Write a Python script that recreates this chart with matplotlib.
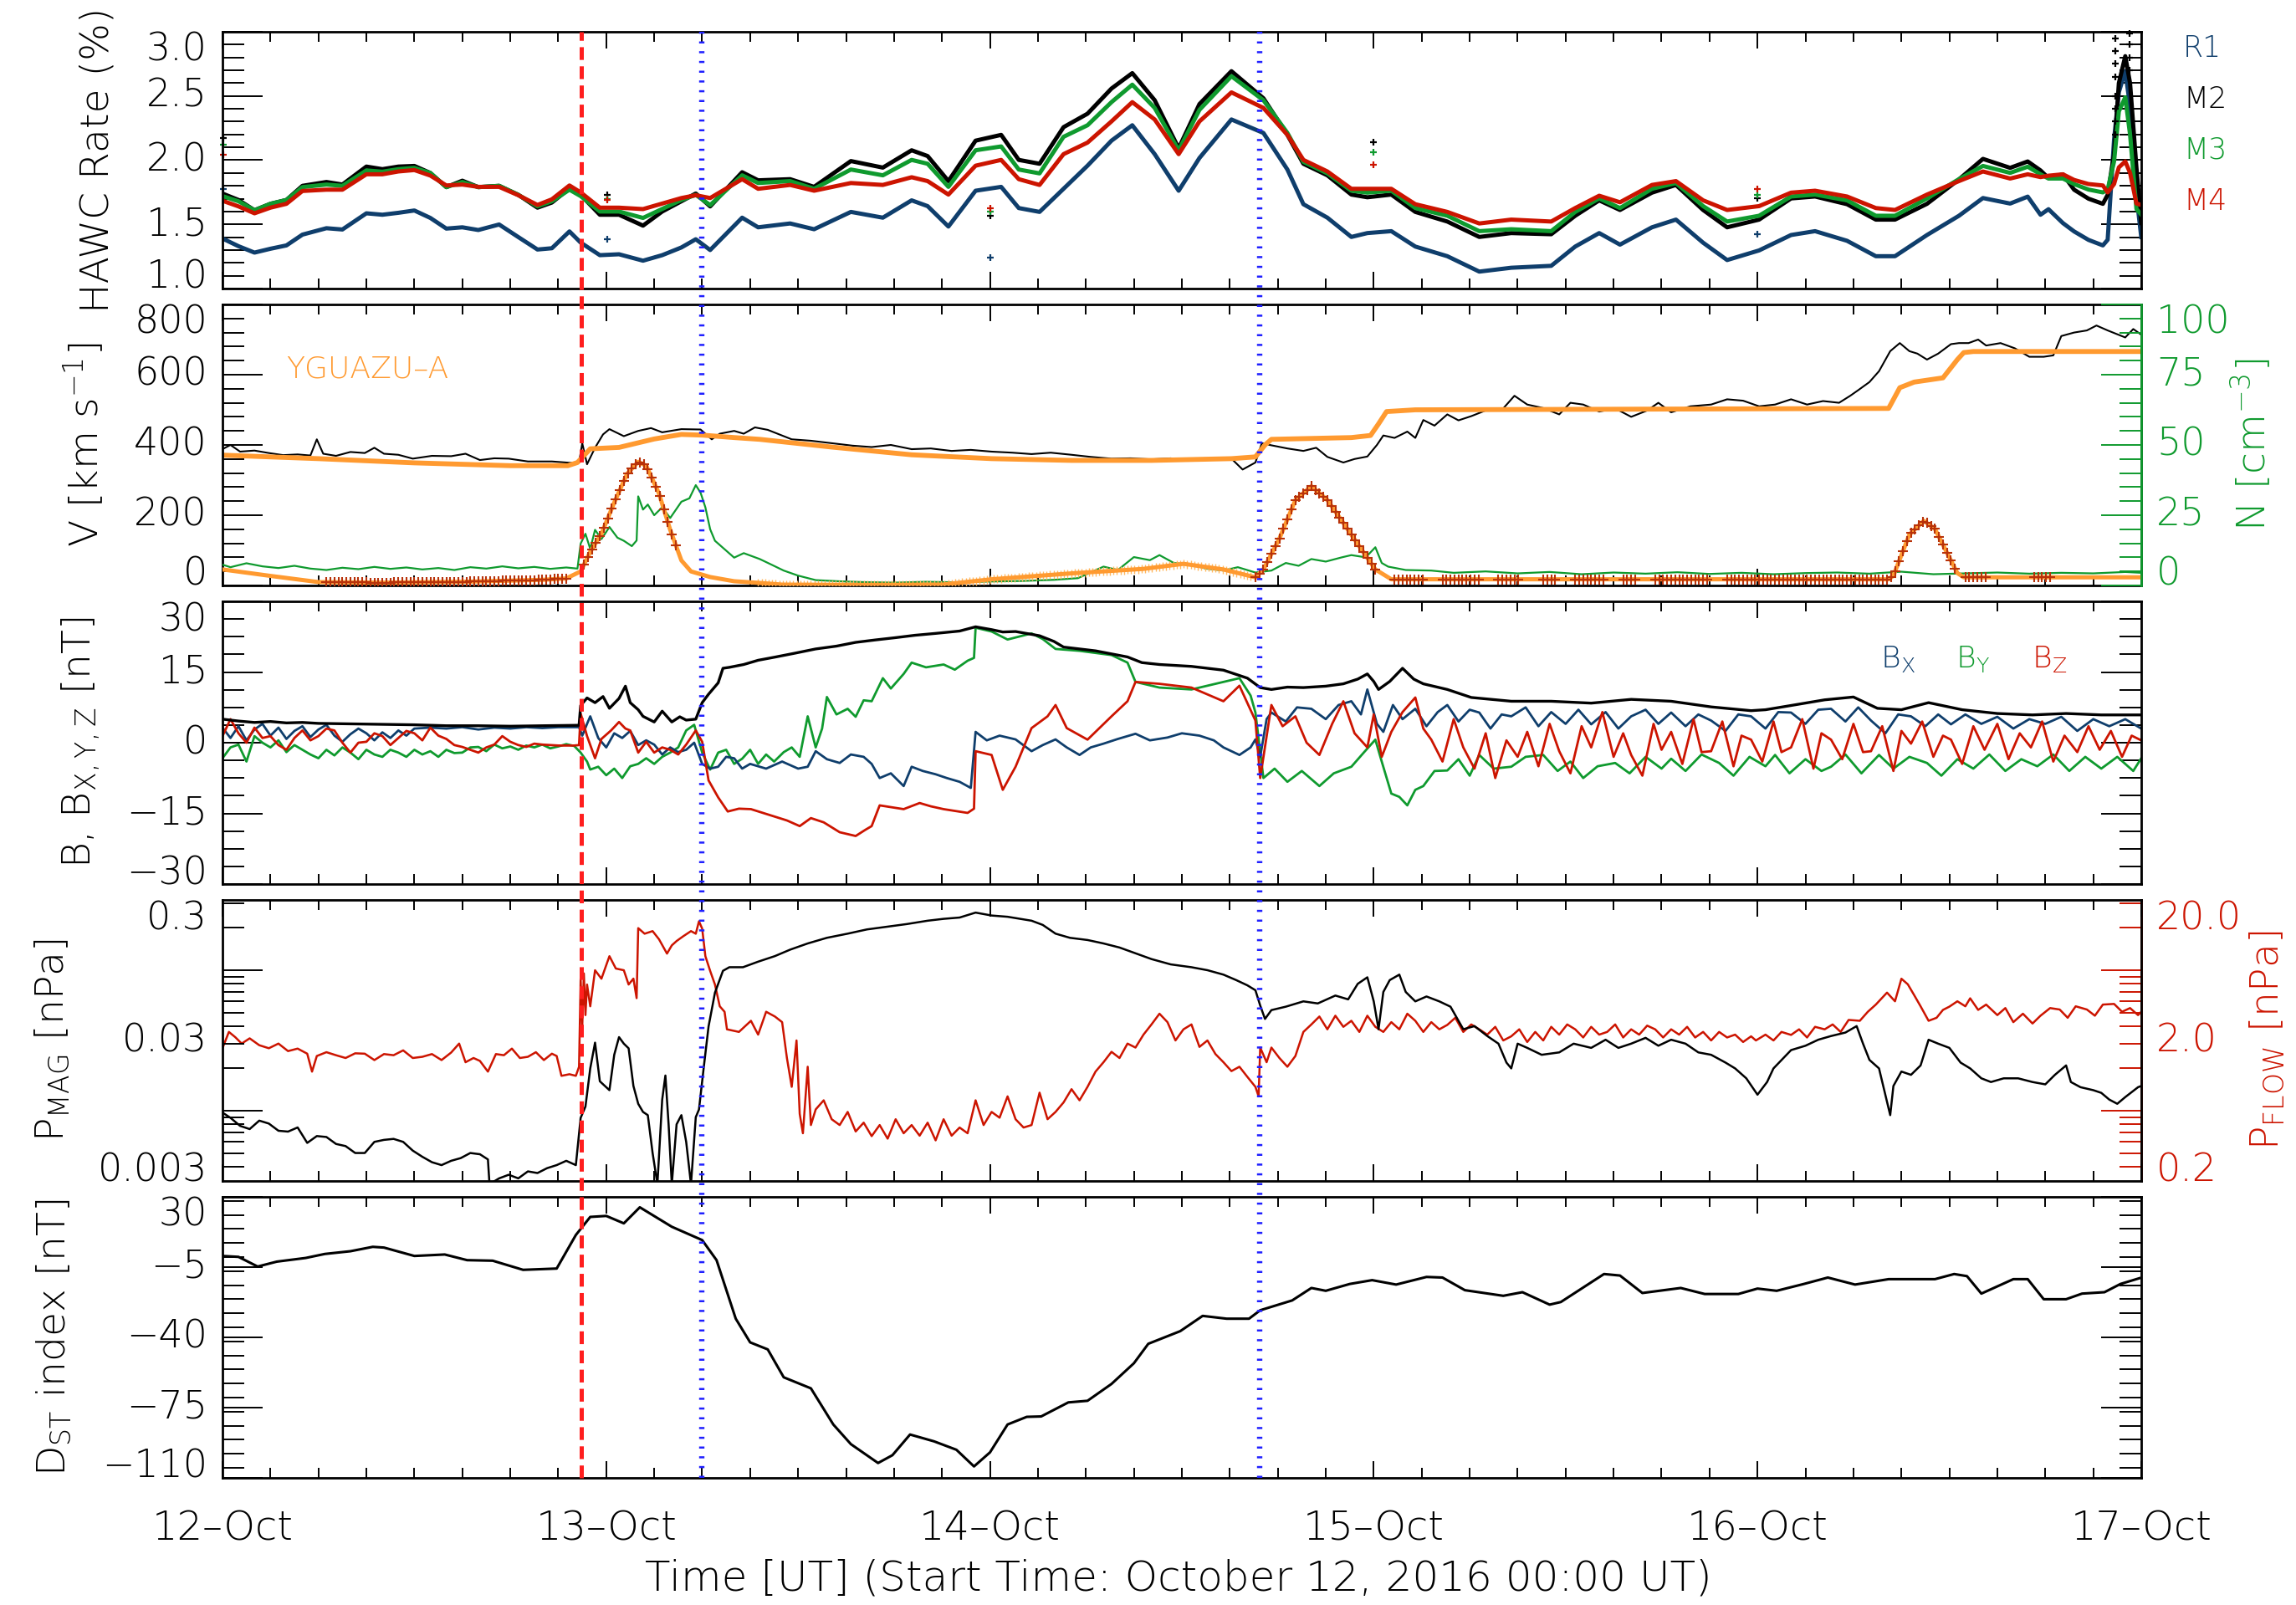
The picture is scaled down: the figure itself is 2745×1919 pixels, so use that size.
import numpy as np
import matplotlib
matplotlib.use("Agg")
import matplotlib.pyplot as plt
from matplotlib import font_manager
from matplotlib.ticker import FixedLocator, MultipleLocator, NullFormatter, LogLocator
from matplotlib.transforms import blended_transform_factory, offset_copy
from matplotlib.lines import Line2D

# pick a thin sans font if one is installed (the original uses a thin stroke font)
FONT_FAMILY, FONT_WEIGHT = 'DejaVu Sans', 'normal'
for fam, key in (('DejaVu Sans', 'extralight'), ('Roboto', 'light'), ('Lato', 'light'), ('Open Sans', 'light'),
                 ('Noto Sans', 'light'), ('Inter', 'light')):
    try:
        p = font_manager.findfont(font_manager.FontProperties(family=fam, weight='light'), fallback_to_default=False)
    except Exception:
        continue
    if key in p.lower().replace('-', '').replace('_', ''):
        FONT_FAMILY, FONT_WEIGHT = fam, 'light'
        break
plt.rcParams['font.family'] = [FONT_FAMILY, 'DejaVu Sans']
plt.rcParams['font.weight'] = FONT_WEIGHT
plt.rcParams['mathtext.default'] = 'regular'
plt.rcParams['lines.scale_dashes'] = False
plt.rcParams['axes.unicode_minus'] = True

# ------------------------------------------------------------------ data
# time axis: hours since 2016-10-12 00:00 UT
DAY_HOURS = [0, 24, 48, 72, 96, 120]
DAY_LABELS = ["12–Oct", "13–Oct", "14–Oct", "15–Oct", "16–Oct", "17–Oct"]
SHOCK_TIME = 22.42
ICME_TIMES = [30.0, 64.85]

HAWC_R1 = [(0,1.39),(1,1.33),(2,1.28),(3,1.31),(4,1.336),(5,1.42),(6.5,1.47),(7.5,1.46),(9,1.586),(10,1.575),
           (11,1.59),(12,1.608),(13,1.55),(14,1.467),(15,1.477),(16,1.456),(17.3,1.499),(18.5,1.401),(19.7,1.304),
           (20.6,1.314),(21.7,1.445),(22.4,1.358),(23.6,1.26),(24.8,1.267),(26.3,1.217),(27.5,1.26),(28.7,1.32),
           (29.6,1.384),(30.5,1.30),(32.5,1.552),(33.5,1.477),(35.5,1.507),(37,1.462),(39.3,1.597),(41.3,1.552),
           (43.1,1.687),(44.1,1.642),(45.4,1.483),(47.1,1.762),(48.7,1.792),(49.8,1.627),(51.1,1.597),(52.6,1.777),
           (54.1,1.957),(55.6,2.152),(56.9,2.272),(58.3,2.047),(59.8,1.762),(61.1,2.017),(63.1,2.317),(65.1,2.212),
           (66.6,1.927),(67.6,1.657),(69.1,1.552),(70.6,1.402),(71.6,1.432),(73.1,1.447),(74.6,1.327),(76.6,1.252),
           (78.6,1.132),(80.6,1.162),(83.1,1.177),(84.6,1.327),(86.1,1.432),(87.4,1.342),(89.4,1.477),(90.9,1.537),
           (92.6,1.357),(94.1,1.222),(96.1,1.297),(98.1,1.417),(99.6,1.447),(101.6,1.372),(103.4,1.252),(104.6,1.252),
           (106.6,1.417),(108.6,1.567),(110.1,1.705),(111.8,1.662),(112.9,1.716),(113.7,1.575),(114.2,1.618),
           (115.1,1.51),(115.8,1.445),(116.7,1.379),(117.6,1.336),(117.9,1.38),(118.3,2.16),(118.6,2.53),(119.0,2.694),
           (119.3,2.422),(119.7,1.727),(120,1.401)]
HAWC_M2 = [(0,1.74),(1,1.69),(2,1.61),(3,1.66),(4,1.69),(5,1.80),(6.5,1.83),(7.5,1.81),(9,1.95),(10,1.93),(11,1.95),
           (12,1.955),(13,1.90),(14,1.79),(15,1.84),(16,1.79),(17.3,1.80),(18.5,1.73),(19.7,1.63),(20.6,1.67),(21.7,1.78),
           (22.4,1.73),(23.6,1.575),(24.8,1.575),(26.3,1.49),(27.5,1.60),(28.7,1.68),(29.6,1.74),(30.5,1.64),(32.5,1.906),
           (33.5,1.843),(35.5,1.852),(37,1.792),(39.3,1.993),(41.3,1.942),(43.1,2.077),(44.1,2.032),(45.4,1.837),
           (47.1,2.152),(48.7,2.197),(49.8,2.002),(51.1,1.972),(52.6,2.257),(54.1,2.362),(55.6,2.558),(56.9,2.678),
           (58.3,2.467),(59.8,2.092),(61.1,2.437),(63.1,2.693),(65.1,2.482),(66.6,2.197),(67.6,1.972),(69.1,1.882),
           (70.6,1.732),(71.6,1.711),(73.1,1.732),(74.6,1.597),(76.6,1.522),(78.6,1.402),(80.6,1.432),(83.1,1.423),
           (84.6,1.567),(86.1,1.687),(87.4,1.612),(89.4,1.747),(90.9,1.807),(92.6,1.612),(94.1,1.477),(96.1,1.537),
           (98.1,1.702),(99.6,1.717),(101.6,1.657),(103.4,1.537),(104.6,1.537),(106.6,1.66),(108.6,1.85),(110.1,2.01),
           (111.8,1.94),(112.9,1.99),(113.7,1.92),(114.2,1.86),(115.1,1.89),(115.8,1.77),(116.7,1.70),(117.6,1.66),
           (117.9,1.73),(118.3,2.05),(118.6,2.60),(119.0,2.81),(119.3,2.60),(119.7,1.94),(120,1.51)]
HAWC_M3 = [(0,1.72),(1,1.68),(2,1.61),(3,1.66),(4,1.69),(5,1.79),(6.5,1.81),(7.5,1.80),(9,1.92),(10,1.91),(11,1.93),
           (12,1.94),(13,1.90),(14,1.79),(15,1.83),(16,1.79),(17.3,1.80),(18.5,1.73),(19.7,1.64),(20.6,1.68),(21.7,1.77),
           (22.4,1.72),(23.6,1.60),(24.8,1.60),(26.3,1.55),(27.5,1.62),(28.7,1.69),(29.6,1.73),(30.5,1.65),(32.5,1.882),
           (33.5,1.822),(35.5,1.837),(37,1.777),(39.3,1.927),(41.3,1.882),(43.1,2.002),(44.1,1.972),(45.4,1.792),
           (47.1,2.077),(48.7,2.107),(49.8,1.927),(51.1,1.897),(52.6,2.182),(54.1,2.272),(55.6,2.452),(56.9,2.588),
           (58.3,2.407),(59.8,2.077),(61.1,2.392),(63.1,2.654),(65.1,2.467),(66.6,2.212),(67.6,1.987),(69.1,1.897),
           (70.6,1.762),(71.6,1.747),(73.1,1.762),(74.6,1.627),(76.6,1.567),(78.6,1.447),(80.6,1.462),(83.1,1.447),
           (84.6,1.597),(86.1,1.702),(87.4,1.627),(89.4,1.777),(90.9,1.822),(92.6,1.642),(94.1,1.522),(96.1,1.567),
           (98.1,1.717),(99.6,1.732),(101.6,1.687),(103.4,1.567),(104.6,1.567),(106.6,1.702),(108.6,1.852),(110.1,1.955),
           (111.8,1.901),(112.9,1.949),(113.7,1.890),(114.2,1.857),(115.1,1.857),(115.8,1.814),(116.7,1.771),(117.6,1.749),
           (117.9,1.771),(118.3,1.99),(118.6,2.38),(119.0,2.49),(119.3,2.20),(119.7,1.62),(120,1.575)]
HAWC_M4 = [(0,1.684),(1,1.64),(2,1.586),(3,1.63),(4,1.66),(5,1.76),(6.5,1.77),(7.5,1.77),(9,1.89),(10,1.89),(11,1.912),
           (12,1.923),(13,1.88),(14,1.803),(15,1.81),(16,1.792),(17.3,1.792),(18.5,1.727),(19.7,1.651),(20.6,1.695),
           (21.7,1.803),(22.4,1.749),(23.6,1.63),(24.8,1.63),(26.3,1.619),(27.5,1.662),(28.7,1.705),(29.6,1.727),
           (30.5,1.705),(32.5,1.852),(33.5,1.777),(35.5,1.807),(37,1.762),(39.3,1.822),(41.3,1.807),(43.1,1.867),
           (44.1,1.837),(45.4,1.732),(47.1,1.957),(48.7,2.002),(49.8,1.852),(51.1,1.807),(52.6,2.047),(54.1,2.137),
           (55.6,2.302),(56.9,2.452),(58.3,2.317),(59.8,2.047),(61.1,2.302),(63.1,2.528),(65.1,2.407),(66.6,2.197),
           (67.6,2.002),(69.1,1.912),(70.6,1.777),(71.6,1.777),(73.1,1.777),(74.6,1.657),(76.6,1.597),(78.6,1.507),
           (80.6,1.537),(83.1,1.522),(84.6,1.627),(86.1,1.723),(87.4,1.672),(89.4,1.807),(90.9,1.837),(92.6,1.687),
           (94.1,1.612),(96.1,1.642),(98.1,1.747),(99.6,1.762),(101.6,1.717),(103.4,1.627),(104.6,1.612),(106.6,1.732),
           (108.6,1.837),(110.1,1.912),(111.8,1.857),(112.9,1.890),(113.7,1.868),(114.2,1.879),(115.1,1.890),
           (115.8,1.846),(116.7,1.814),(117.6,1.803),(117.9,1.749),(118.3,1.814),(118.6,1.944),(119.0,1.99),
           (119.3,1.901),(119.7,1.662),(120,1.651)]
# isolated HAWC samples drawn as single points
HAWC_DOTS_R1 = [(0.05,1.775),(24.07,1.384),(48.0,1.243),(96.0,1.426)]
HAWC_DOTS_M2 = [(0.05,2.17),(24.07,1.73),(48.0,1.567),(72.0,2.137),(96.0,1.702),(118.4,2.95),(118.4,2.85),
                (118.4,2.75),(118.4,2.65),(118.4,2.50),(118.4,2.40),(118.4,2.30),(118.4,2.20),(119.25,2.99),
                (119.25,2.90),(119.25,2.80),(119.25,2.70)]
HAWC_DOTS_M3 = [(0.05,2.12),(24.07,1.70),(48.0,1.597),(72.0,2.062),(96.0,1.732)]
HAWC_DOTS_M4 = [(0.05,2.04),(24.07,1.69),(48.0,1.627),(72.0,1.963),(96.0,1.777)]

# solar-wind speed [km/s]
V_WIND = [(0,388),(0.5,400),(1.1,381),(2,384),(2.9,377),(3.8,371),(4.7,373),(5.5,370),(5.9,416),(6.3,375),(7.1,369),
          (8,380),(8.9,377),(9.5,392),(10.1,375),(11,372),(11.9,361),(13.1,369),(14.3,368),(15.2,375),(16.1,357),
          (17,362),(17.9,361),(19.1,353),(20.6,353),(21.8,349),(22.3,350),(22.5,405),(22.8,345),(23.3,392),(23.8,430),
          (24.2,445),(25.1,425),(26,440),(26.8,448),(27.5,436),(28.7,445),(29.9,444),(30.6,416),(31.1,432),(32,440),
          (32.6,432),(33.3,450),(34.1,443),(35.6,416),(36.8,412),(38.1,405),(39.4,398),(40.6,394),(41.8,400),(43.1,388),
          (44.3,390),(45.6,383),(46.8,386),(48.1,381),(49.4,378),(50.6,374),(51.8,378),(53.1,372),(54.3,366),(55.6,361),
          (56.8,362),(58.1,359),(59.3,362),(60.6,356),(61.8,358),(63.1,361),(63.8,330),(64.6,350),(65.0,405),(65.6,399),
          (66.6,390),(67.6,383),(68.4,392),(69.1,366),(70.1,350),(70.8,360),(71.6,367),(72.2,400),(72.6,427),(73.3,420),
          (74.1,438),(74.6,420),(75.1,471),(75.8,455),(76.6,487),(77.3,470),(78.1,482),(79.1,500),(80.1,504),(80.8,540),
          (81.6,515),(82.6,505),(83.6,487),(84.3,520),(85.1,515),(86.1,495),(87.1,504),(88.1,480),(89.1,498),(89.8,520),
          (90.6,493),(91.8,510),(93.1,515),(94.1,530),(95.1,526),(96.1,510),(97.1,515),(98.1,530),(99.1,515),(100.1,525),
          (101.1,520),(101.8,540),(102.3,556),(103.0,579),(103.6,610),(104.3,667),(104.9,690),(105.5,667),(106.0,660),
          (106.6,643),(107.3,660),(108.1,687),(108.6,690),(109.2,690),(109.8,700),(110.3,683),(111.2,690),(112.1,675),
          (113.0,651),(113.9,651),(114.5,655),(115.0,710),(115.8,720),(116.6,726),(117.2,740),(117.9,726),(118.5,715),
          (119.0,706),(119.5,730),(120,714)]
# YGUAZU-A model speed [km/s]
YG_V = [(0,371),(6,361),(12,349),(18,341),(21.6,341),(22.2,350),(23,389),(24.8,393),(27,417),(28.7,430),(30,428),
        (32,421),(33.6,416),(38.1,394),(43.1,372),(48.1,361),(53.1,356),(58.1,356),(63.1,361),(64.6,366),(65.2,400),
        (65.6,416),(70.6,421),(71.8,427),(72.3,460),(72.8,495),(74.6,500),(104.2,504),(104.9,563),(105.8,579),
        (107.6,591),(108.5,643),(108.9,663),(109.5,666),(120,666)]
# proton density [cm^-3]
N_WIND = [(0,7.4),(0.5,6.5),(1.5,7.9),(2.5,6.8),(3.5,6.2),(4.5,7.0),(5.5,6.0),(6.5,5.5),(7.5,6.3),(8.5,5.8),(9.5,6.6),
          (10.5,5.9),(11.5,6.4),(12.5,5.7),(13.5,6.2),(14.5,5.5),(15.5,6.5),(16.5,6.0),(17.5,6.8),(18.5,6.1),(19.5,6.6),
          (20.5,5.9),(21.5,6.4),(22.2,6.0),(22.4,14.9),(22.7,18.4),(23.0,13),(23.3,19.8),(23.7,16.5),(24.2,20.8),
          (24.7,17),(25.1,15.9),(25.6,14.0),(25.9,16),(26.0,31.7),(26.3,27),(26.6,28.8),(27.0,25),(27.5,27.8),(28.0,24),
          (28.7,29.8),(29.2,31),(29.6,35.7),(29.9,33),(30.2,27.8),(30.5,20),(30.8,15.9),(31.4,12.9),(32.0,9.9),
          (32.6,11.5),(33.6,9.4),(34.3,7.5),(35.1,5.3),(36,3.5),(37.1,1.9),(38.5,1.5),(40,1.2),(42,1.0),(44,1.3),
          (46,1.1),(48,1.4),(50,1.6),(52,2.0),(53.5,2.6),(55.1,6.7),(56,5.5),(57,10.1),(58,9),(58.6,10.8),(59.5,8),
          (60.6,7.4),(61.5,6),(62.6,5.3),(63.5,6.5),(64.6,4.6),(65.6,5.3),(66.5,8),(67.3,7),(68.1,9.4),(69,8.5),(70,10),
          (70.6,10.8),(71.5,10),(72.1,13.6),(72.5,8),(72.9,6.7),(74,5.5),(75.6,5.3),(77,4.5),(79,5),(81,4.3),(83,4.8),
          (85,4.0),(87,4.6),(89,4.2),(91,4.7),(93,4.1),(95,4.5),(97,4.0),(99,4.4),(101,4.6),(103,4.2),(105,4.9),
          (107,4.0),(109,4.3),(111,4.6),(113,4.2),(115,4.5),(117,4.3),(119,4.8),(120,4.5)]
YG_N = [(0,5.7),(3,3.4),(6,1.2),(10,1.0),(15,1.3),(20,2.0),(21.5,2.5),(22.4,5.0),(23,12.0),(23.7,18.4),(24.5,29.5),
        (25.3,39.7),(26.0,44.0),(26.5,42.6),(27.3,32.7),(28.0,19.8),(28.7,8.9),(29.3,5.0),(30.5,3.0),(32,1.5),
        (33.6,0.9),(35,0.3),(40,0.2),(45,0.3),(48.1,2.2),(53.1,4.3),(57.6,5.9),(60.1,7.7),(62.6,5.7),(64.6,2.9),
        (65.1,5.7),(66.1,16.7),(67.1,30.4),(68.1,35.3),(69.1,30.4),(70.1,22.2),(71.1,13.9),(72.1,5.7),(73.1,2.2),
        (104.2,2.2),(104.5,3.5),(105.5,18.1),(106.4,23.0),(107.1,20.1),(107.8,12.2),(108.5,4.4),(108.9,2.9),(120,2.9)]
YG_N_MARK_RANGES = [(6.5,21.6),(22.6,28.6),(64.6,72.3),(73.3,75.1),(76.3,78.6),(79.8,81.1),(82.6,83.6),(84.6,86.6),
                    (87.6,88.6),(89.6,93.1),(94.1,108.4),(109.0,110.4),(113.3,114.4)]
YG_N_LIGHT_RANGE = [(33.5,64.5)]

# magnetic field [nT]
B_TOT = [(0,5.0),(1,4.6),(2,4.3),(3,4.5),(4,4.2),(5,4.3),(6,4.1),(8,4.0),(10,3.9),(12,3.8),(14,3.6),(16,3.6),(18,3.5),
         (20,3.6),(22.3,3.7),(22.4,7.9),(22.8,9.5),(23.3,8.5),(23.8,9.8),(24.2,7.3),(24.8,9.4),(25.2,12.0),(25.5,8.5),
         (26.0,7.0),(26.3,5.6),(27.0,4.4),(27.5,6.7),(28.1,4.4),(28.6,5.5),(29.0,4.8),(29.6,5.0),(30.0,8.5),(30.4,10.3),
         (31.0,12.7),(31.3,15.8),(31.7,16.0),(32.6,16.6),(33.5,17.5),(34.6,18.2),(35.8,19.0),(37.1,19.9),(38.4,20.5),
         (39.6,21.3),(40.8,21.8),(42.1,22.3),(43.3,22.8),(44.6,23.2),(46.1,23.7),(47.1,24.6),(48.1,24.0),(48.8,23.5),
         (49.6,23.6),(51.1,22.7),(52.0,21.5),(52.6,20.3),(54.6,19.5),(56.6,18.2),(57.5,17.0),(58.6,16.6),(60.6,16.2),
         (62.6,15.4),(64.1,13.7),(64.9,11.7),(65.6,11.3),(66.6,11.8),(67.6,11.7),(69.0,12.0),(70.1,12.5),(71.0,13.5),
         (71.6,14.6),(72.0,13.0),(72.3,11.3),(73.0,13.0),(73.8,15.8),(74.5,13.5),(75.1,12.5),(76.6,11.3),(78.1,9.6),
         (80.6,8.8),(83.1,8.8),(85.6,8.4),(88.1,9.2),(90.6,8.8),(93.1,7.6),(95.6,6.8),(96.5,7.0),(98.1,7.9),(100.2,9.1),
         (102.0,9.7),(103.5,7.3),(105.0,7.0),(106.7,8.5),(108.8,7.0),(111.0,6.2),(113.2,5.9),(115.3,6.2),(117.5,5.9),
         (120,5.9)]
B_X = [(0,3.2),(0.5,1.0),(1,3.5),(1.5,0.5),(2,2.8),(2.5,4.0),(3,1.5),(3.5,3.2),(4,0.8),(4.5,2.5),(5,3.5),(5.5,1.2),
       (6,2.8),(6.5,3.8),(7,1.5),(7.5,0.2),(8,1.8),(8.5,3.0),(9,2.0),(9.5,0.5),(10,2.2),(10.5,1.0),(11,2.6),(11.5,1.5),
       (12,3.0),(13,3.2),(14,3.0),(15,3.3),(16,2.8),(17,3.2),(18,3.0),(19,3.3),(20,3.1),(21,3.3),(22.3,3.3),(22.5,1.5),
       (22.8,4.0),(23,5.6),(23.5,1.0),(24,-1.0),(24.5,2.0),(25,1.0),(25.5,2.5),(26,-0.5),(26.5,0.5),(27,-0.4),
       (27.5,-2.5),(28,-1.0),(28.5,-2.0),(29,-1.5),(29.5,0.0),(30,-4.5),(30.5,-5.5),(31,-5.1),(31.5,-3.0),(32,-3.3),
       (32.5,-5.5),(33,-4.5),(34,-5.5),(35,-4.0),(36,-5.5),(36.6,-5.1),(37.1,-1.8),(37.8,-3.5),(38.6,-4.3),(39.3,-2.5),
       (40.1,-3.0),(40.6,-4.5),(41.1,-7.5),(41.8,-6.5),(42.6,-9.2),(43.1,-5.1),(43.8,-6.0),(44.6,-6.7),(45.3,-7.5),
       (46.1,-8.3),(46.8,-9.6),(47.1,2.3),(47.8,0.5),(48.6,1.5),(49.6,0.7),(50.6,-1.8),(51.3,-0.5),(52.1,0.7),
       (52.8,-1.0),(53.6,-2.6),(54.3,-1.0),(55.1,-0.2),(56.0,0.8),(57.1,1.9),(58.0,0.5),(59.1,1.1),(60.0,2.0),(61.1,1.5),
       (62.0,0.5),(62.6,-1.0),(63.6,-2.6),(64.3,-1.0),(64.6,0.7),(64.9,-3.0),(65.3,5.0),(65.6,6.4),(66.5,4.5),
       (67.2,7.5),(68.1,7.2),(69.0,5.0),(69.8,8.0),(70.6,8.8),(71.2,6.0),(71.6,11.3),(72.2,4.0),(72.6,2.3),(73.2,8.0),
       (73.8,5.0),(74.6,7.2),(75.3,3.5),(76.0,6.5),(76.6,8.0),(77.3,4.5),(78.0,7.0),(78.6,6.4),(79.3,3.0),(80.0,6.0),
       (80.6,5.6),(81.5,7.5),(82.3,3.5),(83.1,6.5),(84.0,4.0),(84.8,7.0),(85.6,3.9),(86.5,6.5),(87.3,3.0),(88.1,5.6),
       (89.0,7.0),(89.8,4.0),(90.6,6.4),(91.5,3.5),(92.3,6.0),(93.1,4.7),(94.0,2.5),(94.8,6.0),(95.6,5.6),(96.5,3.0),
       (97.3,6.5),(98.1,6.4),(99.0,4.0),(99.8,7.0),(100.6,7.2),(101.5,4.5),(102.3,7.5),(103.1,4.7),(104.0,2.0),
       (104.8,6.0),(105.6,5.6),(106.5,3.5),(107.3,6.0),(108.1,3.9),(109.0,6.0),(110,4.0),(111,5.5),(112,3.0),(113,5.0),
       (114,4.0),(115,5.5),(116,2.5),(117,5.0),(118,3.5),(119,5.0),(120,3.0)]
B_Y = [(0,-3.3),(0.5,-1.0),(1,-0.4),(1.5,-4.0),(2,1.4),(2.5,0.0),(3,-1.0),(3.5,0.5),(4,-2.0),(4.5,-0.5),(5,-1.5),
       (5.5,-2.5),(6,-3.3),(6.5,-1.5),(7,-2.7),(7.5,-1.0),(8,-2.1),(8.5,-3.5),(9,-1.5),(9.5,-2.5),(10,-3.0),(10.5,-1.5),
       (11,-2.1),(11.5,-3.0),(12,-1.5),(12.5,-2.5),(13,-1.8),(13.5,-3.0),(14,-1.5),(14.5,-2.2),(15,-2.1),(15.5,-1.0),
       (16,-0.9),(16.5,-1.8),(17,-0.4),(17.5,-1.2),(18,-0.8),(18.5,-1.5),(19,-0.6),(19.5,-1.0),(20,-0.4),(20.5,-1.2),
       (21,-0.8),(21.5,-0.3),(22,-0.7),(22.4,-2.1),(22.8,-4.0),(23,-5.7),(23.5,-5.1),(24,-6.9),(24.5,-5.5),(25,-7.5),
       (25.5,-5.0),(26,-4.5),(26.5,-3.3),(27,-4.5),(27.5,-3.0),(28,-2.1),(28.5,-1.0),(29,2.6),(29.5,3.8),(30,-2.1),
       (30.5,-5.7),(31,-2.1),(31.5,-1.5),(32,-4.5),(32.5,-3.4),(33,-1.5),(33.5,-4.5),(34,-2.5),(34.5,-4.0),(35.1,-2.0),
       (35.6,-1.0),(36.1,-3.0),(36.6,5.6),(37.1,-1.0),(37.5,3.0),(37.8,9.7),(38.4,6.0),(39.1,7.2),(39.6,5.5),(40.1,9.0),
       (40.6,8.8),(41.3,13.7),(41.8,11.5),(42.6,14.6),(43.1,17.0),(44,16.0),(45.1,16.6),(45.8,15.5),(46.6,17.4),
       (47.0,18.0),(47.1,24.4),(48.1,23.6),(49.1,21.9),(50.6,23.2),(51.3,22.0),(52.1,19.9),(53.6,19.5),(55.6,18.6),
       (56.6,17.0),(57.1,12.9),(58.6,11.7),(60.6,11.3),(62.6,12.9),(63.6,13.7),(64.3,10.0),(64.6,6.4),(65.1,-7.5),
       (65.8,-5.5),(66.6,-8.3),(67.5,-6.0),(68.6,-9.2),(69.5,-6.5),(70.6,-5.1),(71.4,-2.0),(72.1,0.65),(72.5,-4.0),
       (73.1,-10.8),(73.6,-11.5),(74.1,-13.3),(74.6,-10.0),(75.1,-9.2),(75.8,-6.0),(76.6,-5.9),(77.3,-3.5),(78.0,-7.0),
       (78.6,-2.6),(79.5,-5.5),(80.6,-5.1),(81.5,-3.0),(82.6,-2.6),(83.5,-6.0),(84.3,-4.0),(85.1,-7.5),(86.0,-5.0),
       (87.1,-4.3),(88.0,-6.5),(89.0,-3.0),(90.0,-5.5),(90.6,-3.4),(91.5,-6.0),(92.5,-2.5),(93.6,-4.3),(94.5,-7.0),
       (95.5,-3.0),(96.5,-5.0),(97.1,-2.6),(98.0,-6.5),(99.0,-3.5),(100.0,-6.0),(100.6,-5.1),(101.5,-2.5),(102.5,-6.5),
       (103.6,-2.6),(104.5,-5.5),(105.5,-3.0),(106.6,-4.3),(107.5,-7.0),(108.5,-3.5),(109.5,-5.5),(110.5,-2.5),
       (111.5,-6.0),(112.5,-3.5),(113.5,-5.0),(114.5,-2.5),(115.5,-6.0),(116.5,-3.0),(117.5,-5.5),(118.5,-3.0),
       (119.5,-6.0),(120,-3.3)]
B_Z = [(0,1.4),(0.5,5.0),(1,2.0),(1.5,0.0),(2,3.2),(2.5,1.0),(3,1.4),(3.5,-0.5),(4,-1.5),(4.5,1.0),(5,2.6),(5.5,0.5),
       (6,1.4),(6.5,3.0),(7,2.6),(7.5,0.0),(8,-2.1),(8.5,0.0),(9,0.2),(9.5,2.0),(10,1.4),(10.5,-0.5),(11,1.0),(11.5,2.5),
       (12,2.0),(12.5,0.5),(13,3.2),(13.5,1.5),(14,0.8),(14.5,-0.5),(15,-0.9),(15.5,-1.5),(16,-2.1),(16.5,-1.0),
       (17,-0.4),(17.5,1.4),(18,0.2),(18.5,-0.5),(19,-0.9),(19.5,-0.2),(20,-0.4),(21,-0.6),(22,-0.6),(22.3,-0.5),
       (22.4,6.2),(22.8,1.4),(23.3,-3.3),(23.7,0.8),(24.3,2.6),(24.8,4.4),(25.2,3.0),(25.5,2.6),(26,-2.1),(26.5,0.2),
       (27,-2.1),(27.5,-1.0),(28,-1.5),(28.5,-2.5),(29,-0.4),(29.6,2.6),(30,0.2),(30.4,-8.0),(31,-11.6),(31.6,-14.6),
       (32.3,-14.0),(33.05,-14.1),(34.55,-15.7),(35.3,-16.5),(36.1,-17.7),(36.8,-16.0),(37.6,-16.9),(38.6,-19.0),
       (39.6,-19.8),(40.2,-18.5),(40.6,-17.7),(41.1,-13.3),(42.6,-14.1),(43.6,-12.8),(44.3,-13.5),(45.1,-14.1),
       (46.6,-14.9),(47.0,-14.0),(47.1,-1.8),(48.1,-2.6),(48.8,-10.0),(49.6,-5.1),(50.6,3.1),(51.6,5.6),(52.1,8.0),
       (52.8,3.1),(54.1,0.65),(55.6,5.6),(56.6,8.8),(57.1,12.9),(58.6,12.5),(60.6,11.7),(62.6,8.8),(63.6,12.1),
       (64.6,4.7),(64.9,-7.5),(65.6,8.0),(66.3,3.5),(67.1,5.6),(67.8,0.0),(68.6,-2.6),(69.4,4.0),(70.1,8.8),(70.8,2.0),
       (71.6,-1.0),(72.0,6.0),(72.5,-3.0),(73.1,2.3),(73.8,6.5),(74.6,9.6),(75.1,3.0),(75.6,0.65),(76.3,-4.0),(77.0,5.0),
       (77.6,-1.0),(78.3,-5.5),(79.0,2.0),(79.6,-7.5),(80.3,0.5),(81.0,-3.0),(81.6,2.3),(82.3,-5.0),(83.0,4.0),
       (83.6,-1.8),(84.3,-6.5),(85.0,3.5),(85.6,-1.0),(86.3,6.5),(87.0,-3.0),(87.6,2.0),(88.1,-2.6),(88.8,-7.0),
       (89.5,4.0),(90.0,-1.5),(90.6,2.3),(91.3,-4.5),(92.0,5.0),(92.5,-2.0),(93.1,-1.8),(93.8,4.5),(94.5,-5.0),(95.0,1.5),
       (95.6,0.65),(96.3,-4.0),(97.0,4.5),(97.5,-2.0),(98.1,-1.0),(98.8,5.0),(99.5,-5.5),(100.0,2.0),(100.6,0.65),
       (101.3,-3.5),(102.0,4.0),(102.6,-2.0),(103.1,-1.8),(103.8,3.5),(104.5,-6.0),(105.0,2.5),(105.6,-0.2),(106.3,4.5),
       (107.0,-3.0),(107.6,1.5),(108.1,0.65),(108.8,-4.5),(109.5,3.5),(110.2,-1.5),(111.0,4.0),(111.7,-3.5),(112.4,2.0),
       (113.1,-1.0),(113.8,4.5),(114.5,-4.0),(115.2,1.5),(116.0,-2.0),(116.7,3.5),(117.4,-1.5),(118.1,2.5),(118.8,-3.0),
       (119.4,1.5),(120,0.5)]

# pressures [nPa]
P_MAG = [(0,0.0097),(0.5,0.0089),(1.1,0.0078),(1.7,0.0074),(2.3,0.0085),(2.9,0.0081),(3.5,0.0072),(4.1,0.0071),
         (4.7,0.0076),(5.3,0.0059),(5.9,0.0066),(6.5,0.0065),(7.1,0.0058),(7.7,0.0056),(8.3,0.0050),(8.9,0.0050),
         (9.5,0.0060),(10.1,0.0062),(10.7,0.0063),(11.3,0.0060),(11.9,0.0052),(12.5,0.0047),(13.1,0.0043),(13.7,0.0041),
         (14.3,0.0044),(14.9,0.0046),(15.5,0.0050),(16.1,0.0049),(16.6,0.0045),(16.7,0.0030),(17.3,0.0033),(17.9,0.0035),
         (18.5,0.0033),(19.1,0.0037),(19.7,0.0036),(20.3,0.0039),(20.9,0.0041),(21.5,0.0044),(22.1,0.0041),(22.4,0.0089),
         (22.7,0.0107),(23.0,0.020),(23.3,0.0305),(23.6,0.0162),(24.2,0.0140),(24.5,0.025),(24.8,0.0334),(25.1,0.030),
         (25.4,0.0278),(25.7,0.015),(26.0,0.0112),(26.3,0.0098),(26.6,0.0093),(26.9,0.005),(27.2,0.0030),(27.5,0.012),
         (27.7,0.0178),(27.9,0.008),(28.1,0.0030),(28.4,0.008),(28.7,0.0093),(29.0,0.006),(29.3,0.0030),(29.6,0.0090),
         (29.8,0.0102),(30.1,0.0204),(30.4,0.0398),(30.8,0.0692),(31.3,0.099),(31.7,0.105),(32.55,0.105),(33.5,0.115),
         (34.55,0.126),(35.5,0.140),(36.6,0.155),(37.8,0.170),(39.1,0.182),(40.3,0.195),(41.6,0.204),(42.8,0.213),
         (44.1,0.225),(45.1,0.232),(46.1,0.237),(47.1,0.257),(48.1,0.245),(49.1,0.240),(50.6,0.225),(51.3,0.210),
         (52.1,0.182),(53.0,0.170),(54.1,0.164),(55.1,0.155),(56.1,0.145),(57.1,0.132),(58.1,0.120),(59.3,0.110),
         (60.6,0.105),(61.6,0.100),(62.6,0.093),(63.4,0.085),(64.1,0.078),(64.6,0.072),(64.9,0.056),(65.2,0.045),
         (65.6,0.052),(66.5,0.055),(67.6,0.060),(68.5,0.058),(69.6,0.066),(70.4,0.062),(71.0,0.080),(71.6,0.089),
         (72.0,0.060),(72.3,0.038),(72.6,0.070),(73.0,0.085),(73.6,0.093),(74.0,0.070),(74.6,0.060),(75.3,0.065),
         (76.1,0.060),(76.8,0.055),(77.6,0.038),(78.3,0.040),(79.1,0.034),(79.8,0.030),(80.3,0.022),(80.6,0.020),
         (81.0,0.030),(81.6,0.028),(82.5,0.025),(83.6,0.026),(84.5,0.030),(85.6,0.028),(86.5,0.032),(87.3,0.028),
         (88.1,0.030),(89.0,0.033),(89.8,0.029),(90.6,0.032),(91.5,0.030),(92.3,0.026),(93.1,0.025),(94.0,0.022),
         (94.6,0.020),(95.3,0.017),(96.0,0.013),(96.6,0.016),(97.0,0.020),(98.1,0.027),(99.0,0.029),(99.8,0.032),
         (100.6,0.034),(101.5,0.036),(102.2,0.040),(102.6,0.030),(103.0,0.023),(103.6,0.020),(104.3,0.0093),(104.5,0.015),
         (105.0,0.019),(105.6,0.018),(106.2,0.021),(106.7,0.032),(107.3,0.030),(108.0,0.028),(108.7,0.022),(109.3,0.020),
         (110.0,0.017),(110.6,0.016),(111.4,0.017),(112.3,0.017),(113.2,0.016),(114.0,0.0154),(114.6,0.018),(115.3,0.021),
         (115.6,0.016),(116.2,0.0147),(117.0,0.014),(117.5,0.0134),(118.0,0.012),(118.5,0.0112),(119.0,0.0125),
         (119.8,0.0147),(120,0.015)]
P_FLOW = [(0,1.76),(0.4,2.3),(0.8,2.11),(1.2,1.9),(1.7,2.07),(2.3,1.85),(2.9,1.76),(3.5,1.9),(4.1,1.68),(4.7,1.75),
          (5.3,1.61),(5.6,1.2),(5.9,1.55),(6.5,1.65),(7.1,1.57),(7.7,1.5),(8.3,1.62),(8.9,1.61),(9.5,1.45),(10.1,1.6),
          (10.7,1.57),(11.3,1.7),(11.9,1.5),(12.5,1.53),(13.1,1.6),(13.7,1.45),(14.3,1.64),(14.8,1.9),(15.2,1.40),
          (15.7,1.5),(16.1,1.43),(16.6,1.2),(17.1,1.6),(17.6,1.57),(18.1,1.75),(18.6,1.5),(19.1,1.53),(19.6,1.65),
          (20.1,1.45),(20.6,1.61),(20.9,1.55),(21.2,1.12),(21.7,1.15),(22.1,1.12),(22.3,1.3),(22.4,5.51),(22.5,2.5),
          (22.6,6.0),(22.7,3.03),(22.8,5.0),(23.0,3.5),(23.3,6.32),(23.7,5.5),(24.2,7.96),(24.6,6.5),(25.1,6.32),
          (25.4,5.0),(25.7,5.51),(25.9,4.0),(26.0,12.6),(26.4,11.5),(26.9,12.0),(27.3,10.5),(27.8,8.3),(28.1,9.5),
          (28.4,10.2),(28.8,11.0),(29.3,12.0),(29.6,11.5),(29.8,14.1),(30.0,12.5),(30.2,7.96),(30.5,6.25),(30.8,5.0),
          (31.1,3.5),(31.4,3.2),(31.55,2.4),(32.3,2.3),(33.05,2.76),(33.5,2.2),(34.0,3.2),(34.55,2.96),(35.0,2.7),
          (35.3,1.5),(35.6,0.935),(35.9,2.0),(36.1,0.6),(36.3,0.437),(36.6,1.3),(36.8,0.5),(37.1,0.646),(37.6,0.75),
          (38.1,0.55),(38.6,0.50),(39.1,0.62),(39.6,0.45),(40.1,0.52),(40.6,0.417),(41.1,0.5),(41.6,0.40),(42.1,0.55),
          (42.6,0.437),(43.1,0.5),(43.6,0.42),(44.1,0.52),(44.6,0.389),(45.1,0.55),(45.6,0.42),(46.1,0.48),(46.6,0.437),
          (47.1,0.75),(47.6,0.50),(48.1,0.62),(48.6,0.564),(49.1,0.8),(49.6,0.55),(50.1,0.48),(50.6,0.50),(51.1,0.85),
          (51.6,0.55),(52.1,0.62),(52.6,0.724),(53.1,0.9),(53.6,0.75),(54.1,0.935),(54.6,1.2),(55.1,1.4),(55.6,1.66),
          (56.1,1.5),(56.6,1.9),(57.1,1.78),(57.6,2.2),(58.1,2.6),(58.6,3.10),(59.1,2.7),(59.6,2.0),(60.1,2.40),(60.6,2.6),
          (61.1,1.8),(61.6,2.0),(62.1,1.6),(62.6,1.4),(63.1,1.21),(63.6,1.3),(64.1,1.1),(64.6,0.935),(64.8,0.8),
          (64.9,1.78),(65.3,1.4),(65.6,1.78),(66.1,1.5),(66.6,1.3),(67.1,1.55),(67.6,2.3),(68.1,2.6),(68.6,2.96),
          (69.1,2.4),(69.6,3.0),(70.1,2.5),(70.6,2.76),(71.1,2.3),(71.6,3.0),(72.1,2.5),(72.6,2.3),(73.1,2.7),(73.6,2.4),
          (74.1,3.1),(74.6,2.76),(75.1,2.3),(75.6,2.7),(76.1,2.4),(76.6,2.58),(77.1,2.9),(77.6,2.3),(78.1,2.6),(78.6,2.40),
          (79.1,2.2),(79.6,2.5),(80.1,2.0),(80.6,2.14),(81.1,2.4),(81.6,1.95),(82.1,2.3),(82.6,2.0),(83.1,2.5),(83.6,2.2),
          (84.1,2.6),(84.6,2.40),(85.1,2.1),(85.6,2.5),(86.1,2.2),(86.6,2.30),(87.1,2.6),(87.6,2.1),(88.1,2.4),(88.6,2.2),
          (89.1,2.55),(89.6,2.40),(90.1,2.1),(90.6,2.4),(91.1,2.2),(91.6,2.5),(92.1,2.1),(92.6,2.30),(93.1,2.0),
          (93.6,2.3),(94.1,2.1),(94.6,2.2),(95.1,1.95),(95.6,2.14),(95.9,2.0),(96.5,2.2),(97.0,2.0),(97.5,2.3),
          (98.1,2.19),(98.6,2.4),(99.1,2.1),(99.6,2.5),(100.2,2.40),(100.7,2.6),(101.2,2.3),(101.7,2.8),(102.4,2.76),
          (102.9,3.2),(103.4,3.6),(104.1,4.38),(104.6,3.8),(105.0,5.5),(105.4,5.02),(105.8,4.2),(106.2,3.5),(106.7,2.76),
          (107.2,2.9),(107.6,3.3),(108.0,3.48),(108.5,3.8),(109.0,3.5),(109.3,3.99),(109.8,3.3),(110.3,3.6),(111.0,3.03),
          (111.5,3.4),(112.0,2.7),(112.6,3.1),(113.2,2.64),(113.7,3.0),(114.3,3.4),(114.9,3.32),(115.4,2.9),(115.9,3.5),
          (116.6,3.32),(117.1,3.0),(117.6,3.6),(118.3,3.64),(118.8,3.2),(119.3,3.4),(119.8,3.03),(120,3.2)]

# Dst index [nT]
DST = [(0,0.55),(1.0,0.10),(2.2,-4.72),(3.4,-2.27),(5.2,-0.45),(6.4,1.55),(8.0,2.91),(9.4,5.10),(10.1,4.73),(12.0,0.55),
       (13.9,1.28),(15.3,-1.54),(16.9,-1.81),(18.8,-6.36),(20.9,-5.72),(22.1,11.0),(23.0,20.0),(24.0,20.5),(25.1,16.8),
       (26.1,24.8),(28.1,15.1),(30.0,8.46),(30.9,-1.54),(32.1,-30.7),(33.0,-42.5),(34.1,-46.0),(35.1,-59.9),
       (36.8,-65.4),(38.2,-83.4),(39.3,-93.2),(41.0,-102.6),(41.9,-98.7),(43.0,-88.4),(44.5,-91.8),(45.9,-96.0),
       (47.0,-104.3),(48.0,-97.3),(49.1,-83.4),(50.3,-79.6),(51.2,-79.4),(52.9,-72.4),(54.1,-71.6),(55.6,-63.2),
       (57.0,-52.9),(57.9,-43.2),(59.9,-36.9),(61.3,-29.3),(62.8,-30.7),(64.2,-30.7),(64.9,-26.5),(66.9,-21.6),
       (68.1,-15.4),(69.0,-16.8),(70.5,-13.4),(71.9,-11.5),(73.4,-13.7),(75.3,-9.9),(76.3,-10.2),(77.7,-16.5),
       (80.1,-19.3),(81.3,-17.5),(83.0,-23.7),(83.7,-22.4),(86.4,-8.45),(87.4,-9.2),(88.8,-17.9),(91.2,-15.4),
       (92.7,-18.4),(94.8,-18.4),(96.0,-15.7),(97.2,-16.8),(98.9,-13.4),(100.4,-10.2),(102.1,-13.7),(104.2,-11.0),
       (107.1,-11.0),(108.3,-8.45),(109.1,-9.5),(110.0,-18.2),(112.0,-11.0),(112.9,-11.0),(113.9,-21.0),(115.3,-21.0),
       (116.3,-18.2),(117.7,-17.5),(118.7,-13.4),(119.9,-10.5)]

# axis ranges and tick labels
HAWC_RANGE = (1.0, 3.0)
HAWC_TICKS = [1.0, 1.5, 2.0, 2.5, 3.0]
HAWC_TICKLABELS = ["1.0", "1.5", "2.0", "2.5", "3.0"]
V_RANGE = (0, 800)
V_TICKS = [0, 200, 400, 600, 800]
N_RANGE = (0, 100)
N_TICKS = [0, 25, 50, 75, 100]
B_RANGE = (-30, 30)
B_TICKS = [-30, -15, 0, 15, 30]
PMAG_RANGE = (10 ** -2.5, 10 ** -0.5)
PMAG_LABEL_VALUES = [10 ** -2.5, 10 ** -1.5, 10 ** -0.5]
PMAG_LABELS = ["0.003", "0.03", "0.3"]
PFLOW_RANGE = (0.2, 20.0)
PFLOW_LABELS = ["0.2", "2.0", "20.0"]
DST_RANGE = (-110, 30)
DST_TICKS = [-110, -75, -40, -5, 30]


def xy(pairs):
    a = np.asarray(pairs, dtype=float)
    return a[:, 0], a[:, 1]


def fmt(v):
    return ("%g" % v).replace("-", "\u2212")

# ------------------------------------------------------------------ style
C_BLUE = "#0f3e6c"
C_GREEN = "#0f9a2e"
C_RED = "#cc1400"
C_ORANGE = "#ff9a30"
C_MARK = "#b8320a"
TICK_FS = 33
LBL_FS = 34
LW_FRAME = 2.0

fig = plt.figure(figsize=(27.45, 19.19), dpi=100)
LEFT, RIGHT = 0.0969, 0.9326
ROWS = [(0.82022, 0.15998), (0.63523, 0.17509), (0.44919, 0.17613), (0.26420, 0.17509), (0.07921, 0.17509)]
axes = [fig.add_axes([LEFT, b, RIGHT - LEFT, h]) for b, h in ROWS]


def frame(ax, right_ticks=True):
    for s in ax.spines.values():
        s.set_linewidth(LW_FRAME)
    ax.set_xlim(0, 120)
    ax.xaxis.set_major_locator(FixedLocator(DAY_HOURS))
    ax.xaxis.set_minor_locator(MultipleLocator(3))
    ax.tick_params(axis='x', which='major', direction='in', length=14.5, width=1.4, top=True, bottom=True,
                   labelbottom=False)
    ax.tick_params(axis='x', which='minor', direction='in', length=8.5, width=1.4, top=True, bottom=True)
    ax.tick_params(axis='y', which='major', direction='in', length=34.5, width=1.4, left=True, right=right_ticks,
                   labelleft=False, labelright=False)
    ax.tick_params(axis='y', which='minor', direction='in', length=18.5, width=1.4, left=True, right=right_ticks)
    ax.yaxis.set_major_formatter(NullFormatter())
    ax.yaxis.set_minor_formatter(NullFormatter())


def ytext(ax, values, labels, side='left', color='black'):
    tr = blended_transform_factory(ax.transAxes, ax.transData)
    x = 0.0 if side == 'left' else 1.0
    tr = offset_copy(tr, fig=fig, x=(-13 if side == 'left' else 13), y=0, units='points')
    n = len(values)
    for i, (v, s) in enumerate(zip(values, labels)):
        va = 'baseline' if i == 0 else ('top' if i == n - 1 else 'center')
        ax.text(x, v, s, transform=tr, ha=('right' if side == 'left' else 'left'), va=va,
                fontsize=TICK_FS, color=color, clip_on=False)


def twin_right(ax, color):
    tw = ax.twinx()
    for k in ('left', 'top', 'bottom'):
        tw.spines[k].set_visible(False)
    tw.spines['right'].set_color(color)
    tw.spines['right'].set_linewidth(LW_FRAME)
    tw.tick_params(axis='y', which='major', direction='in', length=34.5, width=1.4, left=False, right=True,
                   labelright=False, colors=color)
    tw.tick_params(axis='y', which='minor', direction='in', length=18.5, width=1.4, left=False, right=True,
                   colors=color)
    tw.yaxis.set_major_formatter(NullFormatter())
    tw.yaxis.set_minor_formatter(NullFormatter())
    return tw

# ------------------------------------------------------------------ panel 1: HAWC
ax = axes[0]
frame(ax)
for pairs, c in ((HAWC_R1, C_BLUE), (HAWC_M2, 'black'), (HAWC_M3, C_GREEN), (HAWC_M4, C_RED)):
    ax.plot(*xy(pairs), color=c, lw=3.6, solid_joinstyle='round')
for pairs, c in ((HAWC_DOTS_R1, C_BLUE), (HAWC_DOTS_M2, 'black'), (HAWC_DOTS_M3, C_GREEN), (HAWC_DOTS_M4, C_RED)):
    ax.plot(*xy(pairs), ls='none', marker='+', ms=6, mew=1.6, color=c, clip_on=False)
ax.set_ylim(*HAWC_RANGE)
ax.yaxis.set_major_locator(FixedLocator(HAWC_TICKS))
ax.yaxis.set_minor_locator(MultipleLocator(0.1))
ytext(ax, HAWC_TICKS, HAWC_TICKLABELS)
for i, (s, c) in enumerate((("R1", C_BLUE), ("M2", 'black'), ("M3", C_GREEN), ("M4", C_RED))):
    fig.text(0.9508, 0.9700 - i * 0.0318, s, color=c, fontsize=25, ha='left', va='center')
fig.text(0.0426, ROWS[0][0] + ROWS[0][1] / 2, "HAWC Rate (%)", rotation=90, ha='center', va='center', fontsize=LBL_FS)

# ------------------------------------------------------------------ panel 2: V and N
ax = axes[1]
frame(ax, right_ticks=False)
ax.plot(*xy(V_WIND), color='black', lw=1.5)
ax.plot(*xy(YG_V), color=C_ORANGE, lw=4.2, solid_capstyle='butt')
ax.set_ylim(*V_RANGE)
ax.yaxis.set_major_locator(FixedLocator(V_TICKS))
ax.yaxis.set_minor_locator(MultipleLocator(40))
ytext(ax, V_TICKS, [fmt(v) for v in V_TICKS])
tw = twin_right(ax, C_GREEN)
tw.plot(*xy(N_WIND), color=C_GREEN, lw=1.6)
tn, nn = xy(YG_N)
light_t = np.concatenate([np.arange(a, b, 0.22) for a, b in YG_N_LIGHT_RANGE])
tw.plot(light_t, np.interp(light_t, tn, nn), ls='none', marker='+', ms=7, mew=1.0, color='#ffb860')
tw.plot(tn, nn, color=C_ORANGE, lw=3.6)
mark_t = np.concatenate([np.arange(a, b, 0.25) for a, b in YG_N_MARK_RANGES])
tw.plot(mark_t, np.interp(mark_t, tn, nn), ls='none', marker='+', ms=9, mew=1.5, color=C_MARK)
tw.set_ylim(*N_RANGE)
tw.yaxis.set_major_locator(FixedLocator(N_TICKS))
tw.yaxis.set_minor_locator(MultipleLocator(5))
ytext(tw, N_TICKS, [fmt(v) for v in N_TICKS], side='right', color=C_GREEN)
fig.text(0.1246, ROWS[1][0] + ROWS[1][1] * 0.77, "YGUAZU–A", color=C_ORANGE, fontsize=26, ha='left', va='center')
fig.text(0.0365, ROWS[1][0] + ROWS[1][1] / 2, "V [km s$^{-1}$]", rotation=90, ha='center',
         va='center', fontsize=LBL_FS)
fig.text(0.9805, ROWS[1][0] + ROWS[1][1] / 2, "N [cm$^{-3}$]", rotation=90, ha='center',
         va='center', fontsize=LBL_FS, color=C_GREEN)

# ------------------------------------------------------------------ panel 3: B
ax = axes[2]
frame(ax)
ax.plot(*xy(B_Y), color=C_GREEN, lw=2.0)
ax.plot(*xy(B_X), color=C_BLUE, lw=2.0)
ax.plot(*xy(B_Z), color=C_RED, lw=2.0)
ax.plot(*xy(B_TOT), color='black', lw=2.4)
ax.set_ylim(*B_RANGE)
ax.yaxis.set_major_locator(FixedLocator(B_TICKS))
ax.yaxis.set_minor_locator(MultipleLocator(3.75))
ytext(ax, B_TICKS, [fmt(v) for v in B_TICKS])
for x, s, c in ((0.8189, "B$_{X}$", C_BLUE), (0.8517, "B$_{Y}$", C_GREEN), (0.8849, "B$_{Z}$", C_RED)):
    fig.text(x, 0.5842, s, color=c, fontsize=26, ha='left', va='baseline')
fig.text(0.0350, ROWS[2][0] + ROWS[2][1] / 2, "B, B$_{X,Y,Z}$ [nT]", rotation=90, ha='center',
         va='center', fontsize=LBL_FS)

# ------------------------------------------------------------------ panel 4: pressures
ax = axes[3]
frame(ax, right_ticks=False)
ax.set_yscale('log')
ax.set_ylim(*PMAG_RANGE)
ax.yaxis.set_major_locator(FixedLocator([0.01, 0.1]))
minor_left = [v for v in LogLocator(base=10, subs=np.arange(2, 10)).tick_values(*PMAG_RANGE)
              if PMAG_RANGE[0] <= v <= PMAG_RANGE[1]]
ax.yaxis.set_minor_locator(FixedLocator(minor_left))
ax.yaxis.set_major_formatter(NullFormatter())
ax.yaxis.set_minor_formatter(NullFormatter())
ytext(ax, PMAG_LABEL_VALUES, PMAG_LABELS)
tw = twin_right(ax, C_RED)
tw.set_yscale('log')
tw.set_ylim(*PFLOW_RANGE)
K = PFLOW_RANGE[1] / PMAG_RANGE[1]
tw.yaxis.set_major_locator(FixedLocator([0.01 * K, 0.1 * K]))
tw.yaxis.set_minor_locator(FixedLocator([v * K for v in minor_left]))
tw.yaxis.set_major_formatter(NullFormatter())
tw.yaxis.set_minor_formatter(NullFormatter())
tw.plot(*xy(P_FLOW), color=C_RED, lw=1.8)
ytext(tw, [PFLOW_RANGE[0], 2.0, PFLOW_RANGE[1]], PFLOW_LABELS, side='right', color=C_RED)
ax.set_zorder(tw.get_zorder() + 1)
ax.patch.set_visible(False)
ax.plot(*xy(P_MAG), color='black', lw=1.8)
fig.text(0.0225, ROWS[3][0] + ROWS[3][1] / 2, "P$_{MAG}$ [nPa]", rotation=90, ha='center',
         va='center', fontsize=LBL_FS)
fig.text(0.9872, ROWS[3][0] + ROWS[3][1] / 2, "P$_{FLOW}$ [nPa]", rotation=90, ha='center',
         va='center', fontsize=LBL_FS, color=C_RED)

# ------------------------------------------------------------------ panel 5: Dst
ax = axes[4]
frame(ax)
ax.plot(*xy(DST), color='black', lw=2.2)
ax.set_ylim(*DST_RANGE)
ax.yaxis.set_major_locator(FixedLocator(DST_TICKS))
ax.yaxis.set_minor_locator(MultipleLocator(7))
ytext(ax, DST_TICKS, [fmt(v) for v in DST_TICKS])
ax.tick_params(axis='x', which='major', labelbottom=True, pad=27, labelsize=34.5)
ax.set_xticklabels(DAY_LABELS)
fig.text(0.0235, ROWS[4][0] + ROWS[4][1] / 2, "D$_{ST}$ index [nT]", rotation=90, ha='center',
         va='center', fontsize=LBL_FS)
fig.text(0.5133, 0.0165, "Time [UT] (Start Time: October 12, 2016 00:00 UT)", ha='center', va='center',
         fontsize=36)

# ------------------------------------------------------------------ event lines through all panels
ytop = axes[0].get_position().y1
ybot = axes[4].get_position().y0
trans = blended_transform_factory(axes[4].transData, fig.transFigure)
fig.add_artist(Line2D([SHOCK_TIME, SHOCK_TIME], [ybot, ytop], transform=trans, color='#ff1e1e', lw=3.6,
                      dashes=(11, 5.5)))
for t in ICME_TIMES:
    fig.add_artist(Line2D([t, t], [ybot, ytop], transform=trans, color='#2020ff', lw=4.6, dashes=(1.8, 6.6)))

fig.savefig("out.png", dpi=100)
